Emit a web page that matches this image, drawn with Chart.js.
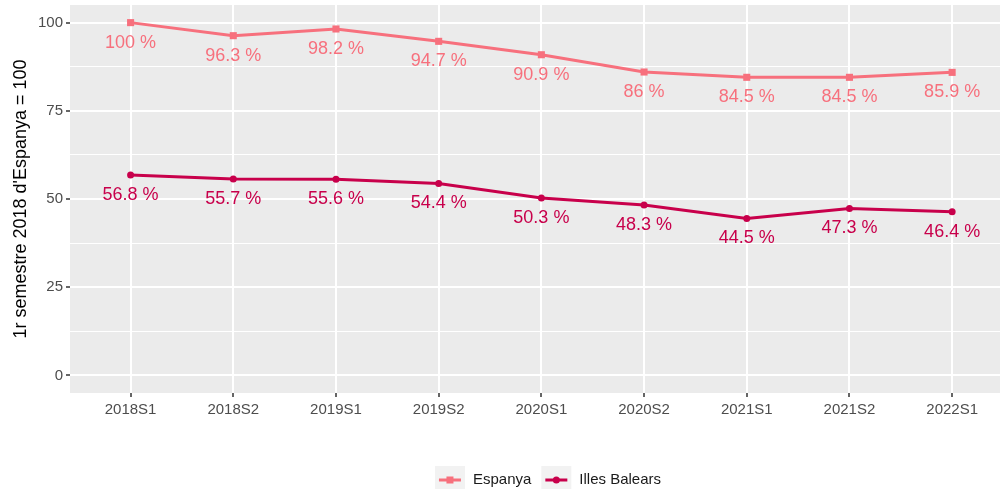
<!DOCTYPE html>
<html>
<head>
<meta charset="utf-8">
<script src="https://cdn.jsdelivr.net/npm/chart.js@4/dist/chart.umd.min.js"></script>
<style>
  html, body { margin: 0; padding: 0; background: #ffffff; overflow: hidden; }
  #wrap { width: 1005px; height: 489px; position: relative; }
  canvas { display: block; }
</style>
</head>
<body>
<div id="wrap"><canvas id="c"></canvas></div>
<script>
// ---- data ----
const categories = ["2018S1", "2018S2", "2019S1", "2019S2", "2020S1", "2020S2", "2021S1", "2021S2", "2022S1"];
const espanya = [100, 96.3, 98.2, 94.7, 90.9, 86, 84.5, 84.5, 85.9];
const illesBalears = [56.8, 55.7, 55.6, 54.4, 50.3, 48.3, 44.5, 47.3, 46.4];
const yMajorTicks = [0, 25, 50, 75, 100];
const yMinorTicks = [12.5, 37.5, 62.5, 87.5];
const seriesNames = ["Espanya", "Illes Balears"];
const yTitle = "1r semestre 2018 d'Espanya = 100";

const colEsp = "#F7707D";
const colIB = "#C8004B";
const FONT = '"Liberation Sans", Arial, sans-serif';

const toXY = arr => arr.map((v, i) => ({ x: i, y: v }));

const panelBg = {
  id: 'panelBg',
  beforeDraw(chart) {
    const { ctx, chartArea: a } = chart;
    ctx.save();
    ctx.fillStyle = '#EBEBEB';
    ctx.fillRect(a.left, a.top, a.right - a.left, a.bottom - a.top);
    ctx.restore();
  }
};

const valueLabels = {
  id: 'valueLabels',
  afterDatasetsDraw(chart) {
    const ctx = chart.ctx;
    ctx.save();
    ctx.font = '18px ' + FONT;
    ctx.textAlign = 'center';
    ctx.textBaseline = 'middle';
    chart.data.datasets.forEach((ds, di) => {
      const meta = chart.getDatasetMeta(di);
      ctx.fillStyle = ds.borderColor;
      meta.data.forEach((pt, i) => {
        const v = ds.data[i].y;
        ctx.fillText(String(v) + ' %', pt.x, pt.y + 20);
      });
    });
    ctx.restore();
  }
};

const ggLegend = {
  id: 'ggLegend',
  afterDraw(chart) {
    const ctx = chart.ctx;
    const ds = chart.data.datasets;
    ctx.save();
    ctx.font = '15px ' + FONT;
    const key = 30, gap = 8, sep = 10;
    const widths = ds.map(d => key + gap + ctx.measureText(d.label).width);
    const total = widths.reduce((a, b) => a + b, 0) + sep * (ds.length - 1);
    const centerX = 548;
    const cy = 480;
    let x = centerX - total / 2;
    ds.forEach((d, i) => {
      ctx.fillStyle = '#F2F2F2';
      ctx.fillRect(x, cy - 14, key, 28);
      ctx.strokeStyle = d.borderColor;
      ctx.lineWidth = 3;
      ctx.beginPath();
      ctx.moveTo(x + 4, cy);
      ctx.lineTo(x + key - 4, cy);
      ctx.stroke();
      ctx.fillStyle = d.borderColor;
      if (d.pointStyle === 'rect') {
        ctx.fillRect(x + key / 2 - 3.5, cy - 3.5, 7, 7);
      } else {
        ctx.beginPath();
        ctx.arc(x + key / 2, cy, 3.5, 0, Math.PI * 2);
        ctx.fill();
      }
      ctx.fillStyle = '#1A1A1A';
      ctx.textAlign = 'left';
      ctx.textBaseline = 'middle';
      ctx.fillText(d.label, x + key + gap, cy);
      x += widths[i] + sep;
    });
    ctx.restore();
  }
};

new Chart(document.getElementById('c'), {
  type: 'line',
  data: {
    datasets: [
      {
        label: seriesNames[0],
        data: toXY(espanya),
        borderColor: colEsp,
        backgroundColor: colEsp,
        borderWidth: 3,
        pointStyle: 'rect',
        pointRadius: 5,
        pointBorderWidth: 0,
        tension: 0
      },
      {
        label: seriesNames[1],
        data: toXY(illesBalears),
        borderColor: colIB,
        backgroundColor: colIB,
        borderWidth: 3,
        pointStyle: 'circle',
        pointRadius: 3.5,
        pointBorderWidth: 0,
        tension: 0
      }
    ]
  },
  options: {
    responsive: true,
    maintainAspectRatio: false,
    animation: false,
    layout: { padding: { top: 5, right: -5, bottom: 0, left: 0 } },
    plugins: {
      legend: { display: false },
      tooltip: { enabled: false }
    },
    scales: {
      x: {
        type: 'linear',
        min: -0.59,
        max: 8.466,
        afterBuildTicks(scale) { scale.ticks = categories.map((_, i) => ({ value: i })); },
        afterFit(scale) {
          scale.height = 96;
          scale.paddingLeft = 0;
          scale.paddingRight = 0;
        },
        ticks: {
          autoSkip: false,
          maxRotation: 0,
          padding: 4,
          color: '#4D4D4D',
          font: { family: FONT, size: 15 },
          callback: v => categories[v]
        },
        grid: {
          color: '#FFFFFF',
          lineWidth: 2,
          drawTicks: true,
          tickLength: 4,
          tickColor: '#333333',
          tickWidth: 1.5
        },
        border: { display: false }
      },
      y: {
        type: 'linear',
        min: -5,
        max: 105,
        afterBuildTicks(scale) {
          scale.ticks = yMajorTicks.concat(yMinorTicks).sort((a, b) => a - b).map(v => ({ value: v }));
        },
        afterFit(scale) {
          scale.width = 70;
          scale.paddingTop = 0;
          scale.paddingBottom = 0;
        },
        ticks: {
          autoSkip: false,
          padding: 3,
          color: '#4D4D4D',
          font: { family: FONT, size: 15 },
          callback: v => (yMajorTicks.includes(v) ? String(v) : '')
        },
        grid: {
          color: '#FFFFFF',
          lineWidth: c => (yMajorTicks.includes(c.tick.value) ? 2 : 1),
          drawTicks: true,
          tickLength: 4,
          tickColor: c => (yMajorTicks.includes(c.tick.value) ? '#333333' : 'rgba(0,0,0,0)'),
          tickWidth: 1.5
        },
        border: { display: false },
        title: {
          display: true,
          text: yTitle,
          color: '#000000',
          font: { family: FONT, size: 18 },
          padding: { top: 10, bottom: 0 }
        }
      }
    }
  },
  plugins: [panelBg, valueLabels, ggLegend]
});
</script>
</body>
</html>
